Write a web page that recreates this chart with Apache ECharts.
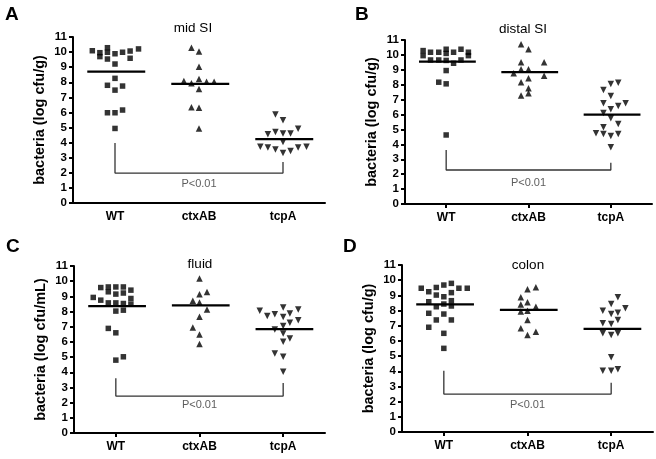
<!DOCTYPE html>
<html><head><meta charset="utf-8">
<script src="https://cdn.jsdelivr.net/npm/echarts@6/dist/echarts.min.js"></script>
<style>html,body{margin:0;padding:0;background:#fff}#c{width:656px;height:459px}</style>
</head><body><div id="c"></div>
<script>
// ---- data ----
const categories = ['WT', 'ctxAB', 'tcpA'];
const panelTitles = ['mid SI', 'distal SI', 'fluid', 'colon'];
const panelLetters = ['A', 'B', 'C', 'D'];
const yAxisNames = ['bacteria (log cfu/g)', 'bacteria (log cfu/g)', 'bacteria (log cfu/mL)', 'bacteria (log cfu/g)'];
const pLabel = 'P<0.01';

// Panel A (mid SI)
const A_WT_y   = [10.09, 9.96, 9.70, 10.29, 9.99, 9.54, 9.89, 9.99, 10.07, 10.21, 9.21, 9.59, 8.26, 7.80, 7.75, 7.48, 5.98, 5.98, 6.16, 4.94];
const A_WT_dx  = [-0.27, -0.18, -0.18, -0.09, -0.09, -0.09, 0, 0.09, 0.18, 0.28, 0, 0.18, 0, -0.09, 0.09, 0, -0.09, 0, 0.09, 0];
const A_CTX_y  = [10.29, 10.04, 9.03, 8.21, 8.08, 7.93, 8.03, 8.03, 7.55, 6.35, 6.31, 4.94];
const A_CTX_dx = [-0.09, 0, 0, 0, -0.18, -0.09, 0.09, 0.18, 0, -0.09, 0, 0];
const A_TCP_y  = [5.87, 5.49, 4.56, 4.71, 4.61, 4.61, 4.92, 4.05, 3.72, 3.68, 3.55, 3.32, 3.45, 3.68, 3.72];
const A_TCP_dx = [-0.09, 0, -0.18, -0.09, 0, 0.09, 0.18, 0, -0.27, -0.18, -0.09, 0, 0.09, 0.18, 0.28];
const A_median = [8.70, 7.90, 4.23];
const A_bracket = [3.98, 1.98, 2.72, 1.24]; // left top, bottom, right top, label

// Panel B (distal SI)
const B_WT_y   = [10.29, 9.95, 10.18, 9.66, 10.18, 9.66, 10.38, 10.10, 9.63, 10.18, 9.44, 10.38, 9.66, 10.18, 9.95, 8.95, 8.17, 8.06, 4.63];
const B_WT_dx  = [-0.28, -0.28, -0.19, -0.19, -0.09, -0.09, 0, 0, 0, 0.09, 0.09, 0.18, 0.18, 0.27, 0.27, 0, -0.09, 0, 0];
const B_CTX_y  = [10.72, 10.38, 9.51, 9.51, 9.04, 9.04, 8.77, 8.43, 8.61, 8.17, 7.76, 7.27, 7.43];
const B_CTX_dx = [-0.09, 0, -0.09, 0.19, -0.09, 0, -0.18, 0, 0.19, -0.09, 0, -0.09, 0];
const B_TCP_y  = [8.05, 8.14, 7.65, 7.25, 6.76, 6.58, 6.76, 6.35, 6.11, 5.75, 5.37, 5.15, 4.74, 4.70, 4.56, 4.70, 3.80];
const B_TCP_dx = [0, 0.09, -0.09, 0, -0.09, 0.09, 0.18, 0, -0.09, 0, 0.09, -0.09, -0.18, -0.09, 0, 0.09, 0];
const B_median = [9.55, 8.84, 6.00];
const B_bracket = [3.62, 2.28, 2.77, 1.39];

// Panel C (fluid)
const C_WT_y   = [9.58, 9.62, 9.30, 9.62, 9.15, 9.62, 9.22, 9.41, 8.93, 8.75, 8.86, 8.57, 8.57, 8.53, 8.49, 8.03, 8.09, 6.89, 6.60, 4.80, 5.02];
const C_WT_dx  = [-0.18, -0.09, -0.09, 0, 0, 0.09, 0.09, 0.18, -0.27, -0.18, 0.18, -0.09, 0, 0.09, 0.18, 0, 0.09, -0.09, 0, 0, 0.09];
const C_CTX_y  = [10.18, 9.14, 9.29, 8.71, 8.60, 8.14, 7.65, 6.95, 6.49, 5.86];
const C_CTX_dx = [0, 0, 0.09, -0.08, 0, 0.09, 0, -0.08, 0, 0];
const C_TCP_y  = [8.05, 8.27, 8.14, 7.70, 7.83, 7.64, 7.87, 7.43, 7.26, 7.04, 6.82, 6.56, 6.01, 6.23, 5.24, 5.02, 4.03];
const C_TCP_dx = [-0.28, 0, 0.18, -0.19, -0.10, 0, 0.08, 0.18, 0.08, 0, -0.10, 0, 0, 0.08, -0.10, 0, 0];
const C_median = [8.36, 8.40, 6.84];
const C_bracket = [3.60, 2.43, 3.30, 1.84];

// Panel D (colon)
const D_WT_y   = [9.47, 9.24, 9.52, 9.68, 9.79, 9.47, 9.47, 9.02, 8.91, 9.18, 8.58, 8.65, 8.43, 8.25, 7.82, 7.77, 8.30, 7.38, 7.38, 6.90, 6.50, 5.51];
const D_WT_dx  = [-0.27, -0.18, -0.09, 0, 0.09, 0.18, 0.28, -0.09, 0, 0.09, -0.18, 0.09, 0, -0.09, -0.18, 0, 0.09, -0.09, 0.09, -0.18, 0, 0];
const D_CTX_y  = [9.40, 9.53, 8.87, 8.55, 8.40, 8.25, 7.93, 7.99, 7.38, 6.83, 6.39, 6.61];
const D_CTX_dx = [0, 0.10, -0.08, 0, -0.08, 0.10, -0.08, 0, 0, -0.08, 0, 0.10];
const D_TCP_y  = [8.87, 8.43, 7.99, 7.77, 7.86, 8.15, 7.16, 7.12, 7.38, 6.50, 6.39, 6.50, 4.92, 4.04, 4.04, 4.13];
const D_TCP_dx = [0.08, 0, -0.10, 0, 0.08, 0.17, -0.10, 0, 0.08, -0.10, 0, 0.08, 0, -0.10, 0, 0.08];
const D_median = [8.41, 8.04, 6.79];
const D_bracket = [4.04, 2.50, 3.25, 1.78];

const panelData = [
  {groups: [[A_WT_y, A_WT_dx], [A_CTX_y, A_CTX_dx], [A_TCP_y, A_TCP_dx]], median: A_median, bracket: A_bracket},
  {groups: [[B_WT_y, B_WT_dx], [B_CTX_y, B_CTX_dx], [B_TCP_y, B_TCP_dx]], median: B_median, bracket: B_bracket},
  {groups: [[C_WT_y, C_WT_dx], [C_CTX_y, C_CTX_dx], [C_TCP_y, C_TCP_dx]], median: C_median, bracket: C_bracket},
  {groups: [[D_WT_y, D_WT_dx], [D_CTX_y, D_CTX_dx], [D_TCP_y, D_TCP_dx]], median: D_median, bracket: D_bracket}
];

// ---- layout ----
const grids = [
  {left: 73, top: 37, width: 252, height: 166},
  {left: 405, top: 40, width: 247, height: 164},
  {left: 74, top: 266, width: 251, height: 167},
  {left: 402, top: 265, width: 251, height: 167}
];
const showTicks = [false, true, true, true];
const titlePos = [[188, 16], [518, 17], [195, 252], [523, 253]];
const letterPos = [[5, 5], [355, 5], [6, 237], [343, 237]];

const FONT = 'Liberation Sans, Arial, Helvetica, sans-serif';
const symbols = ['rect', 'triangle', 'triangle'];
const symRot = [0, 0, 180];
const symSize = [5.5, 6.5, 6.5];

const option = {
  animation: false,
  backgroundColor: '#fff',
  textStyle: {fontFamily: FONT},
  grid: [], xAxis: [], yAxis: [], series: [], title: [], graphic: []
};

panelData.forEach((p, k) => {
  option.grid.push(Object.assign({containLabel: false}, grids[k]));
  option.xAxis.push({
    type: 'category', gridIndex: k, data: categories, boundaryGap: true,
    axisLine: {lineStyle: {color: '#000', width: 2}},
    axisTick: {show: showTicks[k], alignWithLabel: true, length: 4, lineStyle: {color: '#000', width: 2}},
    axisLabel: {color: '#000', fontWeight: 'bold', fontSize: 12, margin: 8, fontFamily: FONT},
    splitLine: {show: false}
  });
  option.xAxis.push({
    type: 'value', gridIndex: k, min: 0, max: 3, show: false
  });
  option.yAxis.push({
    type: 'value', gridIndex: k, min: 0, max: 11, interval: 1,
    name: yAxisNames[k], nameLocation: 'middle', nameGap: 26, nameRotate: 90,
    nameTextStyle: {color: '#000', fontWeight: 'bold', fontSize: 14.5, fontFamily: FONT},
    axisLine: {show: true, lineStyle: {color: '#000', width: 2}},
    axisTick: {show: true, length: 4, lineStyle: {color: '#000', width: 2}},
    axisLabel: {color: '#000', fontWeight: 'bold', fontSize: 11.5, margin: 6, fontFamily: FONT},
    splitLine: {show: false}
  });
  const xi = k * 2 + 1;
  p.groups.forEach((g, ci) => {
    const ys = g[0], dxs = g[1];
    option.series.push({
      type: 'scatter', xAxisIndex: xi, yAxisIndex: k,
      symbol: symbols[ci], symbolRotate: symRot[ci], symbolSize: symSize[ci],
      itemStyle: {color: '#000'},
      data: ys.map((y, i) => [ci + 0.5 + dxs[i], y])
    });
    option.series.push({
      type: 'line', xAxisIndex: xi, yAxisIndex: k, symbol: 'none',
      lineStyle: {color: '#000', width: 2.2},
      data: [[ci + 0.5 - 0.33, p.median[ci]], [ci + 0.5 + 0.36, p.median[ci]]]
    });
  });
  const b = p.bracket;
  option.series.push({
    type: 'line', xAxisIndex: xi, yAxisIndex: k, symbol: 'none',
    lineStyle: {color: '#333', width: 1.3},
    data: [[0.5, b[0]], [0.5, b[1]], [2.5, b[1]], [2.5, b[2]]]
  });
  option.series.push({
    type: 'scatter', xAxisIndex: xi, yAxisIndex: k, symbolSize: 0,
    label: {show: true, position: 'inside', formatter: pLabel, color: '#333', fontSize: 11, fontFamily: FONT},
    data: [[1.5, b[3]]]
  });
  option.title.push({
    text: panelTitles[k], left: titlePos[k][0], top: titlePos[k][1], textAlign: 'center',
    textStyle: {color: '#000', fontSize: 13.5, fontWeight: 'normal', fontFamily: FONT}
  });
  option.graphic.push({
    type: 'text', left: letterPos[k][0], top: letterPos[k][1],
    style: {text: panelLetters[k], fill: '#000', font: 'bold 19px ' + FONT}
  });
});

const chart = echarts.init(document.getElementById('c'), null, {renderer: 'canvas'});
chart.setOption(option);
</script>
</body></html>
